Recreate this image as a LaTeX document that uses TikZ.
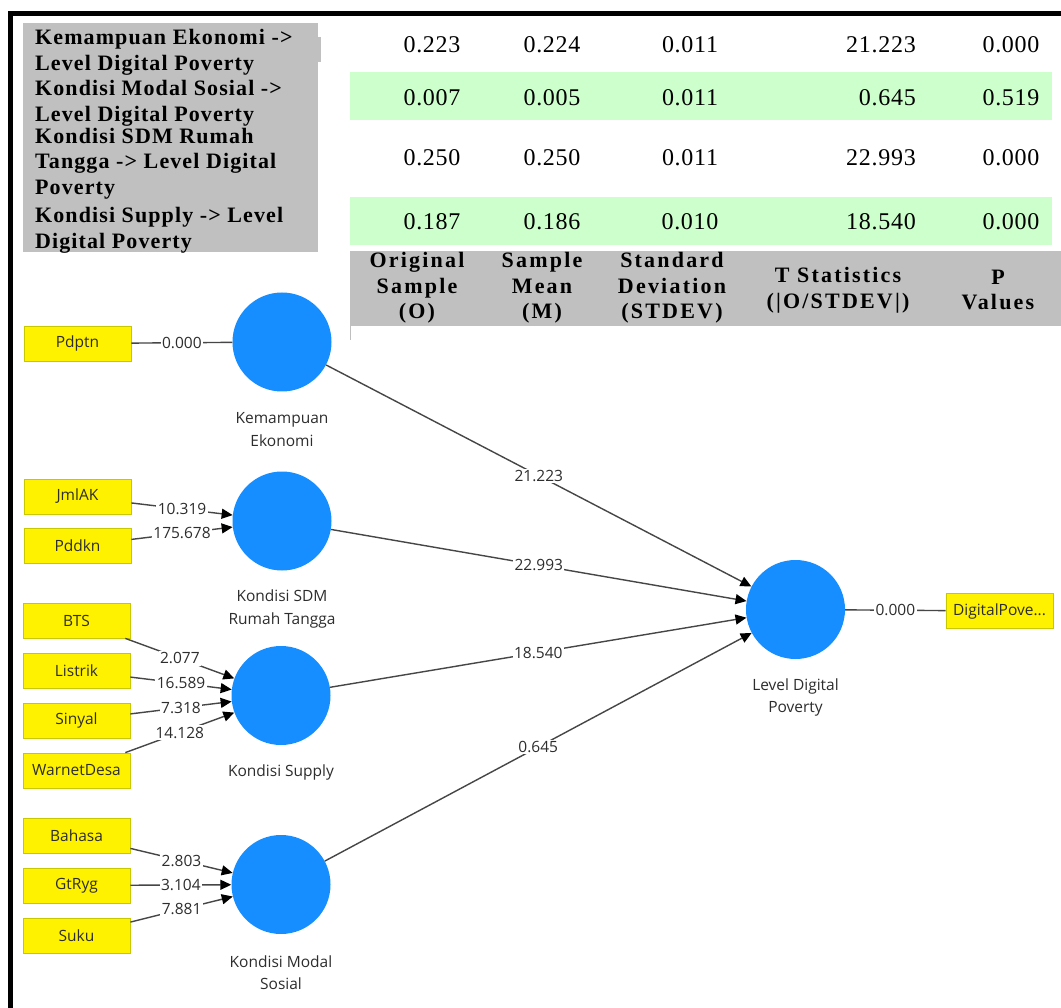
\documentclass[tikz,border=0pt]{standalone}
\usepackage{fontspec}
\setmainfont{Liberation Serif}
\newfontfamily\grayfont[LetterSpace=5]{Liberation Serif}
\newfontfamily\headfont[LetterSpace=10]{Liberation Serif}
\newfontfamily\numfont[LetterSpace=3]{Liberation Serif}
\newfontfamily\diafont{Open Sans}
\usetikzlibrary{arrows.meta}
\definecolor{pblue}{RGB}{22,142,255}
\definecolor{graybg}{RGB}{192,192,192}
\definecolor{greenbg}{RGB}{204,255,204}
\definecolor{ybord}{RGB}{200,200,0}
\definecolor{egray}{RGB}{70,70,70}
\definecolor{tgray}{RGB}{45,45,45}
\begin{document}
\begin{tikzpicture}[x=1pt,y=-1pt,
  rowlbl/.style={anchor=north west, inner sep=0pt, align=left,
    font=\grayfont\bfseries\fontsize{22}{25.5}\selectfont},
  numcell/.style={inner sep=0pt, font=\numfont\fontsize{24}{28}\selectfont},
  headcell/.style={inner sep=0pt, align=center,
    font=\headfont\bfseries\fontsize{22}{25.5}\selectfont},
  latvar/.style={circle, fill=pblue, minimum size=99pt, inner sep=0pt},
  indbox/.style={rectangle, fill=yellow, draw=ybord, line width=0.8pt,
    minimum width=107pt, minimum height=35pt, inner sep=1pt,
    font=\diafont\fontsize{15.5}{18}\selectfont, text=tgray},
  latcap/.style={align=center, inner sep=0pt, text=tgray,
    font=\diafont\fontsize{15.5}{22.5}\selectfont},
  elbl/.style={fill=white, inner sep=1.5pt, text=tgray,
    font=\diafont\fontsize{15.5}{18}\selectfont},
  conn/.style={draw=egray, line width=1.4pt},
  arrconn/.style={conn, -{Triangle[length=11pt,width=10pt,color=black]}}
]
\useasboundingbox (0,0) rectangle (1061,1008);
\fill[white] (0,0) rectangle (1061,1008);
% frame
\draw[line width=5pt] (10.5,1012) -- (10.5,13.5) -- (1066,13.5);

% table backgrounds
\fill[graybg] (23,23) rectangle (318,252);
\fill[graybg] (316,37) rectangle (321,62);
\fill[greenbg] (350,72) rectangle (1052,120);
\fill[greenbg] (350,197) rectangle (1052,245);
\fill[graybg] (350,251) rectangle (1061,326);
\draw[gray!50, line width=1pt] (350.5,326) -- (350.5,340);

% row labels
\node[rowlbl] (r1) at (35,29.5) {Kemampuan Ekonomi ->\\Level Digital Poverty};
\node[rowlbl] (r2) at (35,80.5) {Kondisi Modal Sosial ->\\Level Digital Poverty};
\node[rowlbl] (r3) at (35,128) {Kondisi SDM Rumah\\Tangga -> Level Digital\\Poverty};
\node[rowlbl] (r4) at (35,207.5) {Kondisi Supply -> Level\\Digital Poverty};

% numbers
\node[numcell] (n11) at (432,45) {0.223};
\node[numcell] (n12) at (552,45) {0.224};
\node[numcell] (n13) at (690,45) {0.011};
\node[numcell, anchor=east] (n14) at (916,45) {21.223};
\node[numcell] (n15) at (1011,45) {0.000};

\node[numcell] (n21) at (432,98) {0.007};
\node[numcell] (n22) at (552,98) {0.005};
\node[numcell] (n23) at (690,98) {0.011};
\node[numcell, anchor=east] (n24) at (916,98) {0.645};
\node[numcell] (n25) at (1011,98) {0.519};

\node[numcell] (n31) at (432,158) {0.250};
\node[numcell] (n32) at (552,158) {0.250};
\node[numcell] (n33) at (690,158) {0.011};
\node[numcell, anchor=east] (n34) at (916,158) {22.993};
\node[numcell] (n35) at (1011,158) {0.000};

\node[numcell] (n41) at (432,222) {0.187};
\node[numcell] (n42) at (552,222) {0.186};
\node[numcell] (n43) at (690,222) {0.010};
\node[numcell, anchor=east] (n44) at (916,222) {18.540};
\node[numcell] (n45) at (1011,222) {0.000};

% header
\node[headcell] (h1) at (417,288) {Original\\Sample\\(O)};
\node[headcell] (h2) at (542,288) {Sample\\Mean\\(M)};
\node[headcell] (h3) at (672,288) {Standard\\Deviation\\(STDEV)};
\node[headcell] (h4) at (838,290) {T Statistics\\(|O/STDEV|)};
\node[headcell] (h5) at (998,290) {P\\Values};

% indicators
\node[indbox] (pdptn) at (77.5,343.5) {Pdptn};
\node[indbox] (jmlak) at (77.5,496.5) {JmlAK};
\node[indbox] (pddkn) at (77.5,546) {Pddkn};
\node[indbox] (bts) at (76.5,620.5) {BTS};
\node[indbox] (listrik) at (76.5,670.5) {Listrik};
\node[indbox] (sinyal) at (76.5,720.5) {Sinyal};
\node[indbox] (warnet) at (76.5,770.5) {WarnetDesa};
\node[indbox] (bahasa) at (76.5,835.5) {Bahasa};
\node[indbox] (gtryg) at (76.5,885.5) {GtRyg};
\node[indbox] (suku) at (76.5,935.5) {Suku};
\node[indbox] (dpv) at (999.5,611) {DigitalPove...};

% latent variables
\node[latvar] (ke) at (282,342) {};
\node[latvar] (sdm) at (282,521) {};
\node[latvar] (sup) at (281,695.5) {};
\node[latvar] (mod) at (281,884.5) {};
\node[latvar] (ldp) at (795.5,609.5) {};

\node[latcap] (cke) at (282,429.5) {Kemampuan\\Ekonomi};
\node[latcap] (csdm) at (282,609) {Kondisi SDM\\Rumah Tangga};
\node[latcap] (csup) at (281,772) {Kondisi Supply};
\node[latcap] (cmod) at (281,972.5) {Kondisi Modal\\Sosial};
\node[latcap] (cldp) at (795.5,697.5) {Level Digital\\Poverty};

% outer model
\draw[conn] (pdptn) -- node[elbl] (e1) {0.000} (ke);
\draw[arrconn] (jmlak) -- node[elbl] (e2) {10.319} (sdm);
\draw[arrconn] (pddkn) -- node[elbl] (e3) {175.678} (sdm);
\draw[arrconn] (bts) -- node[elbl] (e4) {2.077} (sup);
\draw[arrconn] (listrik) -- node[elbl] (e5) {16.589} (sup);
\draw[arrconn] (sinyal) -- node[elbl] (e6) {7.318} (sup);
\draw[arrconn] (warnet) -- node[elbl] (e7) {14.128} (sup);
\draw[arrconn] (bahasa) -- node[elbl] (e8) {2.803} (mod);
\draw[arrconn] (gtryg) -- node[elbl] (e9) {3.104} (mod);
\draw[arrconn] (suku) -- node[elbl] (e10) {7.881} (mod);
\draw[conn] (ldp) -- node[elbl] (e11) {0.000} (dpv);

% inner model
\draw[arrconn] (ke) -- node[elbl] (p1) {21.223} (ldp);
\draw[arrconn] (sdm) -- node[elbl] (p2) {22.993} (ldp);
\draw[arrconn] (sup) -- node[elbl] (p3) {18.540} (ldp);
\draw[arrconn] (mod) -- node[elbl] (p4) {0.645} (ldp);
\end{tikzpicture}
\end{document}
